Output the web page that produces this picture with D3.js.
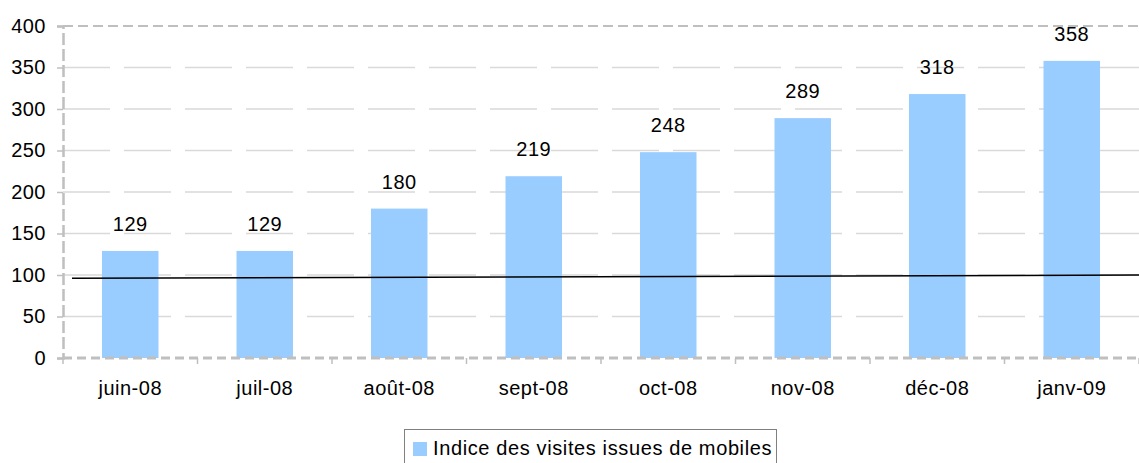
<!DOCTYPE html>
<html>
<head>
<meta charset="utf-8">
<script src="https://cdn.jsdelivr.net/npm/d3@7"></script>
<style>
	body { margin: 0; background: #fff; }
	text { font-family: "Liberation Sans", Arial, sans-serif; fill: #000; letter-spacing: 0.5px; }
</style>
</head>
<body>
<svg id="chart" width="1139" height="463"></svg>
<script>
'use strict';

// Months on the x axis
var months = ['juin-08', 'juil-08', 'août-08', 'sept-08', 'oct-08', 'nov-08', 'déc-08', 'janv-09'];
// Index of visits coming from mobiles
var visit_index = [129, 129, 180, 219, 248, 289, 318, 358];
// y axis ticks
var y_ticks = [0, 50, 100, 150, 200, 250, 300, 350, 400];
// Base 100 reference line, as drawn (slightly tilted) from left to right
var base_line = [96, 100];
var series_name = 'Indice des visites issues de mobiles';

var bar_colour = '#99CCFF';
var font_size = 20;

var svg = d3.select('#chart');
var margin = { left: 63, right: 0, top: 26, bottom: 105 };
var width = 1139 - margin.left - margin.right;
var height = 463 - margin.top - margin.bottom;

var canvas = svg.append('g')
	.attr('transform', 'translate(' + margin.left + ',' + margin.top + ')');

var x_scale = d3.scaleBand().domain(months).range([0, width]).paddingInner(0.58).paddingOuter(0.29);
var x_edges = d3.scaleLinear().domain([0, months.length]).range([0, width]);
var y_scale = d3.scaleLinear().domain([0, 400]).range([height, 0]);

// Horizontal gridlines
canvas.selectAll('line.grid')
	.data(y_ticks.filter(function(d) { return d > 0 && d < 400; }))
	.enter().append('line')
	.attr('class', 'grid')
	.attr('x1', 0).attr('x2', width)
	.attr('y1', function(d) { return y_scale(d); })
	.attr('y2', function(d) { return y_scale(d); })
	.attr('stroke', '#d9d9d9')
	.attr('stroke-width', 1.5)
	.attr('stroke-dasharray', '47,14');

// Top border of the plot area
canvas.append('line')
	.attr('x1', 0).attr('x2', width)
	.attr('y1', y_scale(400)).attr('y2', y_scale(400))
	.attr('stroke', '#bfbfbf').attr('stroke-width', 2)
	.attr('stroke-dasharray', '10,5');

// Bars
canvas.selectAll('rect.bar')
	.data(visit_index)
	.enter().append('rect')
	.attr('class', 'bar')
	.attr('x', function(d, i) { return x_scale(months[i]); })
	.attr('y', function(d) { return y_scale(d); })
	.attr('width', x_scale.bandwidth())
	.attr('height', function(d) { return height - y_scale(d); })
	.attr('fill', bar_colour);

// Value labels above the bars
canvas.selectAll('text.value')
	.data(visit_index)
	.enter().append('text')
	.attr('class', 'value')
	.attr('x', function(d, i) { return x_scale(months[i]) + x_scale.bandwidth() / 2; })
	.attr('y', function(d) { return y_scale(d) - 20; })
	.attr('text-anchor', 'middle')
	.attr('font-size', font_size)
	.text(function(d) { return d; });

// Base 100 line
canvas.append('line')
	.attr('x1', 9).attr('x2', width)
	.attr('y1', y_scale(base_line[0])).attr('y2', y_scale(base_line[1]))
	.attr('stroke', '#000').attr('stroke-width', 1.5);

// y axis
var y_axis = canvas.append('g')
	.call(d3.axisLeft(y_scale).tickValues(y_ticks).tickSize(6).tickPadding(11));
y_axis.select('.domain')
	.attr('stroke', '#bfbfbf').attr('stroke-width', 2.5)
	.attr('stroke-dasharray', '12,4');
y_axis.selectAll('.tick line').attr('stroke', '#bfbfbf').attr('stroke-width', 1.5);
y_axis.selectAll('.tick text')
	.attr('font-size', font_size).attr('font-family', '"Liberation Sans", Arial, sans-serif').attr('fill', '#000');

// x axis: dashed baseline, ticks between categories
var x_axis = canvas.append('g').attr('transform', 'translate(0,' + height + ')');
x_axis.append('line')
	.attr('x1', 0).attr('x2', width)
	.attr('stroke', '#bfbfbf').attr('stroke-width', 3)
	.attr('stroke-dasharray', '9,5');
x_axis.selectAll('line.tick')
	.data(d3.range(months.length + 1))
	.enter().append('line')
	.attr('class', 'tick')
	.attr('x1', function(d) { return x_edges(d); })
	.attr('x2', function(d) { return x_edges(d); })
	.attr('y1', 0).attr('y2', 6)
	.attr('stroke', '#bfbfbf').attr('stroke-width', 1.5);
x_axis.selectAll('text')
	.data(months)
	.enter().append('text')
	.attr('x', function(d) { return x_scale(d) + x_scale.bandwidth() / 2; })
	.attr('y', 37)
	.attr('text-anchor', 'middle')
	.attr('font-size', font_size)
	.text(function(d) { return d; });

// Legend
var legend = svg.append('g').attr('transform', 'translate(404,429)');
legend.append('rect')
	.attr('x', 0.5).attr('y', 0.5)
	.attr('width', 372).attr('height', 40)
	.attr('fill', '#fff').attr('stroke', '#808080').attr('stroke-width', 1);
legend.append('rect')
	.attr('x', 9).attr('y', 13)
	.attr('width', 14).attr('height', 14)
	.attr('fill', bar_colour);
legend.append('text')
	.attr('x', 29).attr('y', 26)
	.attr('font-size', font_size)
	.attr('textLength', 339)
	.attr('lengthAdjust', 'spacing')
	.text(series_name);
</script>
</body>
</html>
